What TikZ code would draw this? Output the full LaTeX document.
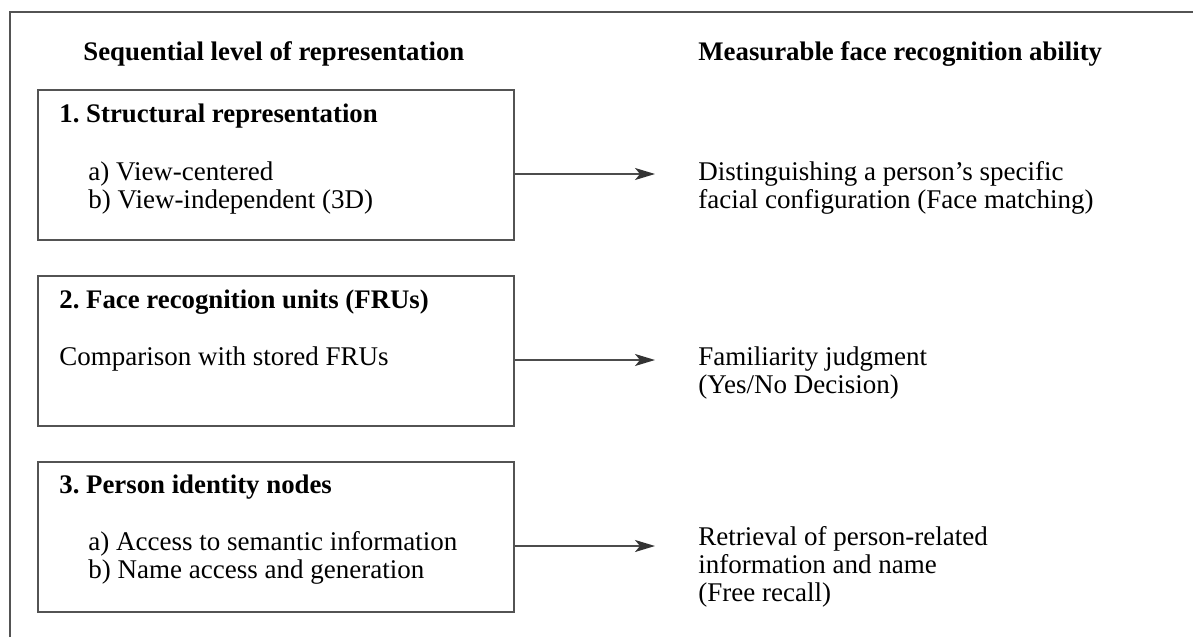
\documentclass[tikz,border=0pt]{standalone}
\usepackage{fontspec}
\setmainfont{Liberation Serif}
\usetikzlibrary{arrows.meta}
\frenchspacing
\begin{document}
\begin{tikzpicture}[
    x=0.5pt, y=-0.5pt,
    level/.style={
        draw=gray!65!black,
        line width=1pt,
        minimum width=238pt,
        minimum height=75pt,
        inner sep=0pt,
        anchor=north west
    },
    txt/.style={
        anchor=base west,
        inner sep=0pt,
        align=left,
        font=\fontsize{13.5}{13.8}\selectfont
    },
    head/.style={txt, font=\fontsize{13.4}{13.8}\selectfont\bfseries},
    link/.style={
        draw=gray!60!black,
        line width=0.8pt,
        -{Stealth[length=10pt,width=6pt,inset=2.5pt,black!80]},
        shorten >=21.5pt
    }
]
\useasboundingbox (0,0) rectangle (1193,637);

% Rahmen
\draw[gray!65!black, line width=1pt] (10,637) -- (10,12) -- (1193,12);

% Spaltenkoepfe
\node[head] (hleft) at (83,60) {Sequential level of representation};
\node[head] (hright) at (698,60) {Measurable face recognition ability};

% Stufen
\node[level] (box1) at (37,89) {};
\node[level] (box2) at (37,275) {};
\node[level] (box3) at (37,461) {};

% (mehrzeilig: base = letzte Zeile)
\node[head] (t1) at (59,122) {1. Structural representation};
\node[txt] (s1) at (88,208) {a) View-centered\\b) View-independent (3D)};

\node[head] (t2) at (59,308) {2. Face recognition units (FRUs)};
\node[txt] (s2) at (59,365) {Comparison with stored FRUs};

\node[head] (t3) at (59,493) {3. Person identity nodes};
\node[txt] (s3) at (88,578) {a) Access to semantic information\\b) Name access and generation};

% Faehigkeiten
\node[txt] (res1) at (698,208) {Distinguishing a person's specific\\facial configuration (Face matching)};
\node[txt] (res2) at (698,393) {Familiarity judgment\\(Yes/No Decision)};
\node[txt] (res3) at (698,601) {Retrieval of person-related\\information and name\\(Free recall)};

% Pfeile
\foreach \i in {1,2,3}
    \draw[link] ([yshift=-4.5pt]box\i.east) -- ([yshift=-4.5pt]box\i.east -| res\i.west);

\end{tikzpicture}
\end{document}
